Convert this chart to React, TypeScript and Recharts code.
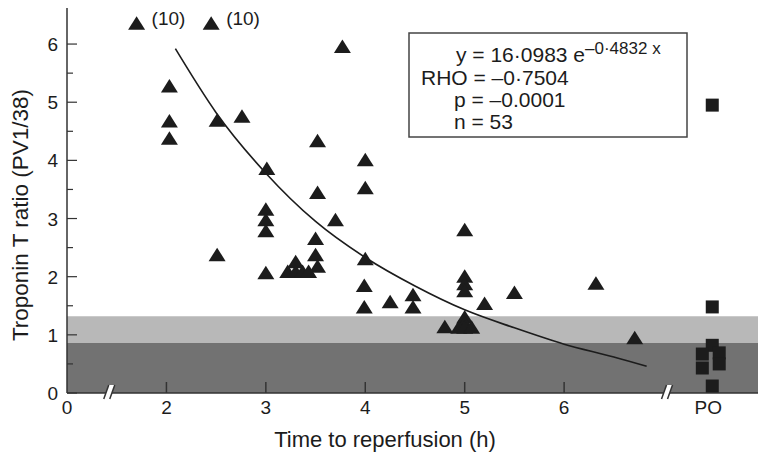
import React from "react";
import {
  ComposedChart,
  Scatter,
  Line,
  XAxis,
  YAxis,
  ReferenceArea,
  ReferenceDot,
} from "recharts";

// time to reperfusion (h) and troponin T ratio for the triangles
const triHours = [
  2.03, 2.03, 2.03, 2.51, 2.76, 3.01, 2.51,
  3.0, 3.0, 3.0, 3.0,
  3.52, 3.52, 3.7, 3.5, 3.5, 3.52,
  3.3, 3.22, 3.3, 3.37, 3.43,
  3.77,
  4.0, 4.0, 4.0, 3.99, 3.99,
  4.25, 4.48, 4.48, 4.8,
  5.0, 5.0, 5.0, 5.0,
  5.0, 5.0, 4.94, 5.0, 5.07,
  5.2, 5.5, 6.32, 6.71,
];
const triRatio = [
  5.27, 4.67, 4.37, 4.68, 4.75, 3.85, 2.37,
  3.15, 2.97, 2.78, 2.06,
  4.33, 3.44, 2.97, 2.65, 2.37, 2.17,
  2.25, 2.08, 2.08, 2.08, 2.08,
  5.95,
  4.0, 3.52, 2.3, 1.84, 1.47,
  1.56, 1.68, 1.47, 1.13,
  2.8, 2.0, 1.87, 1.75,
  1.3, 1.2, 1.12, 1.12, 1.12,
  1.53, 1.72, 1.88, 0.94,
];

// off scale points, drawn at the top with their real value
const offHours = [1.7, 2.45];
const offRatio = [6.35, 6.35];
const offNotes = ["(10)", "(10)"];

// PO group (squares), x in axis units inside the PO column
const poPos = [6.49, 6.49, 6.49, 6.39, 6.56, 6.39, 6.56, 6.49];
const poRatio = [4.95, 1.48, 0.82, 0.67, 0.69, 0.43, 0.5, 0.12];

// fitted curve
const fitHours = [2.09, 2.5, 3, 3.5, 4, 4.5, 5, 5.5, 6, 6.5, 6.83];
const fitRatio = [5.92, 4.82, 3.78, 2.95, 2.33, 1.84, 1.43, 1.12, 0.84, 0.62, 0.46];

const xTickPos = [0, 1, 2, 3, 4, 5, 6.45];
const xTickLabels = ["0", "2", "3", "4", "5", "6", "PO"];
const yTicks = [0, 0.5, 1, 1.5, 2, 2.5, 3, 3.5, 4, 4.5, 5, 5.5, 6];
const breakPos = [0.43, 6.04];

const normalTop = 0.87;
const borderTop = 1.32;

// axis is broken between 0 and 2 h
const toAxis = (h: number) => h - 1;

const triData = triHours.map((h, i) => ({ x: toAxis(h), y: triRatio[i] }));
const offData = offHours.map((h, i) => ({ x: toAxis(h), y: offRatio[i], note: offNotes[i] }));
const poData = poPos.map((p, i) => ({ x: p, y: poRatio[i] }));
const fitData = fitHours.map((h, i) => ({ x: toAxis(h), y: fitRatio[i] }));

const ink = "#1c1c1c";
const axisInk = "#333";
const font = "'Liberation Sans', Arial, sans-serif";

const Triangle = (props: any) => {
  const { cx, cy } = props;
  return (
    <polygon
      points={`${cx},${cy - 7.5} ${cx + 8.5},${cy + 6} ${cx - 8.5},${cy + 6}`}
      fill={ink}
    />
  );
};

const NotedTriangle = (props: any) => {
  const { cx, cy, payload } = props;
  return (
    <g>
      <Triangle cx={cx} cy={cy} />
      <text x={cx + 15} y={cy + 1} fontSize={19} fontFamily={font} fill={ink}>
        {payload.note}
      </text>
    </g>
  );
};

const Square = (props: any) => {
  const { cx, cy } = props;
  return <rect x={cx - 6.5} y={cy - 6.5} width={13} height={13} fill={ink} />;
};

const BreakMark = (props: any) => {
  const { cx, cy } = props;
  return (
    <g>
      <polygon
        points={`${cx - 6},${cy + 6} ${cx - 1},${cy - 8} ${cx + 5},${cy - 8} ${cx},${cy + 6}`}
        fill="#fff"
      />
      <line x1={cx - 6} y1={cy + 6} x2={cx - 1} y2={cy - 8} stroke={axisInk} strokeWidth={1.5} />
      <line x1={cx} y1={cy + 6} x2={cx + 5} y2={cy - 8} stroke={axisInk} strokeWidth={1.5} />
    </g>
  );
};

const XTick = (props: any) => {
  const { x, y, index } = props;
  const label = xTickLabels[index];
  const hasMark = index > 0 && index < xTickLabels.length - 1;
  return (
    <g>
      {hasMark && <line x1={x} y1={y} x2={x} y2={y - 11} stroke={axisInk} strokeWidth={1.5} />}
      <text x={x} y={y + 21} textAnchor="middle" fontSize={19} fontFamily={font} fill={ink}>
        {label}
      </text>
    </g>
  );
};

const YTick = (props: any) => {
  const { x, y, payload } = props;
  const v = payload.value;
  const major = Number.isInteger(v);
  return (
    <g>
      <line x1={x} y1={y} x2={x + (major ? 10 : 6)} y2={y} stroke={axisInk} strokeWidth={1.2} />
      {major && (
        <text x={x - 9} y={y + 7} textAnchor="end" fontSize={19} fontFamily={font} fill={ink}>
          {v}
        </text>
      )}
    </g>
  );
};

export default function App() {
  return (
    <div style={{ position: "absolute", left: 0, top: 0, width: 758, height: 454, background: "#fff" }}>
      <ComposedChart
        width={758}
        height={454}
        margin={{ top: 8, right: 0, bottom: 31, left: 37 }}
      >
        <ReferenceArea y1={0} y2={normalTop} fill="#727272" fillOpacity={1} stroke="none" />
        <ReferenceArea y1={normalTop} y2={borderTop} fill="#b8b8b8" fillOpacity={1} stroke="none" />
        <XAxis
          type="number"
          dataKey="x"
          domain={[0, 6.95]}
          ticks={xTickPos}
          interval={0}
          height={30}
          tickSize={0}
          tickMargin={0}
          tickLine={false}
          tick={<XTick />}
          axisLine={{ stroke: axisInk, strokeWidth: 1.5 }}
          allowDataOverflow
        />
        <YAxis
          type="number"
          dataKey="y"
          domain={[0, 6.62]}
          ticks={yTicks}
          interval={0}
          width={30}
          tickSize={0}
          tickMargin={0}
          tickLine={false}
          tick={<YTick />}
          axisLine={{ stroke: axisInk, strokeWidth: 1.5 }}
          allowDataOverflow
        />
        {breakPos.map((b) => (
          <ReferenceDot key={b} x={b} y={0} r={0} shape={<BreakMark />} ifOverflow="visible" />
        ))}
        <Line
          data={fitData}
          dataKey="y"
          type="monotone"
          stroke={ink}
          strokeWidth={1.6}
          dot={false}
          activeDot={false}
          isAnimationActive={false}
        />
        <Scatter data={triData} dataKey="y" shape={<Triangle />} isAnimationActive={false} />
        <Scatter data={offData} dataKey="y" shape={<NotedTriangle />} isAnimationActive={false} />
        <Scatter data={poData} dataKey="y" shape={<Square />} isAnimationActive={false} />
        <text x={385} y={447} textAnchor="middle" fontSize={22} fontFamily={font} fill={ink}>
          Time to reperfusion (h)
        </text>
        <text
          x={28}
          y={215}
          transform="rotate(-90 28 215)"
          textAnchor="middle"
          fontSize={22.5}
          fontFamily={font}
          fill={ink}
        >
          Troponin T ratio (PV1/38)
        </text>
        <g fontFamily={font} fill={ink} fontSize={21}>
          <rect x={409} y={33} width={278} height={104} fill="#fff" stroke="#444" strokeWidth={1.5} />
          <text x={456} y={62}>
            y = 16·0983 e
            <tspan fontSize={17} dy={-8}>–0·4832 x</tspan>
          </text>
          <text x={421} y={85}>RHO = –0·7504</text>
          <text x={454} y={107}>p = –0.0001</text>
          <text x={454} y={129}>n = 53</text>
        </g>
      </ComposedChart>
    </div>
  );
}
